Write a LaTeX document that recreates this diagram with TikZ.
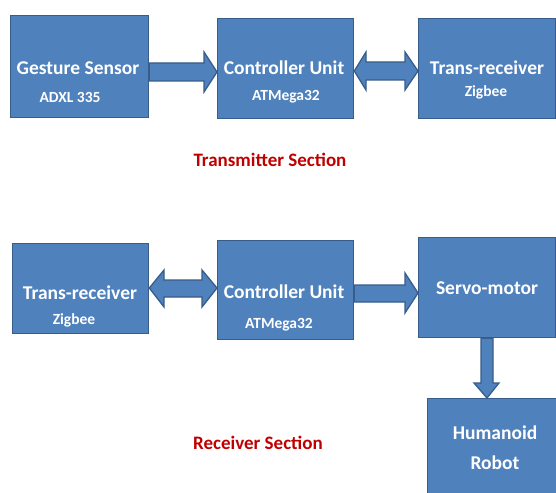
\documentclass[tikz,border=0pt]{standalone}
\usepackage{fontspec}
\setmainfont{Carlito}
\usetikzlibrary{calc}
\definecolor{boxblue}{HTML}{4F81BD}
\definecolor{boxline}{HTML}{385D8A}
\definecolor{titlered}{HTML}{C00000}
\begin{document}
\begin{tikzpicture}[x=1pt,y=-1pt,
  blk/.style={draw=boxline, fill=boxblue, line width=1.3pt},
  box/.style={blk, rectangle, inner sep=0pt, anchor=north west},
  lbl/.style={text=white, font=\bfseries\fontsize{19.5}{21}\selectfont, inner sep=0pt},
  sub/.style={text=white, font=\bfseries\fontsize{15.5}{17}\selectfont, inner sep=0pt},
  ttl/.style={text=titlered, font=\bfseries\fontsize{19}{21}\selectfont, inner sep=0pt}]
\useasboundingbox (0,0) rectangle (556,492);
\fill[white] (0,0) rectangle (556,492);

% boxes
\node[box, minimum width=138pt, minimum height=102pt] (gs) at (10,15) {};
\node[box, minimum width=136pt, minimum height=100pt] (cu1) at (217,18) {};
\node[box, minimum width=137pt, minimum height=100pt] (tr1) at (418,18) {};
\node[box, minimum width=136pt, minimum height=90pt] (tr2) at (12,243) {};
\node[box, minimum width=136pt, minimum height=99pt] (cu2) at (217,240) {};
\node[box, minimum width=137pt, minimum height=100pt] (sm) at (418,237) {};
\node[box, minimum width=131pt, minimum height=100pt] (hr) at (427,398) {};

% arrows
\draw[blk] (gs.east |- 0,63) -- (204,63) -- (204,52) -- (cu1.west |- 0,72)
  -- (204,92) -- (204,81) -- (gs.east |- 0,81) -- cycle;
\draw[blk] (cu1.east |- 0,71) -- (366,52) -- (366,62) -- (405,62) -- (405,52)
  -- (tr1.west |- 0,71) -- (405,90) -- (405,80) -- (366,80) -- (366,90) -- cycle;
\draw[blk] (tr2.east |- 0,288) -- (164,270) -- (164,280) -- (202,280) -- (202,270)
  -- (cu2.west |- 0,288) -- (202,307) -- (202,297) -- (164,297) -- (164,307) -- cycle;
\draw[blk] (cu2.east |- 0,285) -- (405,285) -- (405,273) -- (sm.west |- 0,293)
  -- (405,313) -- (405,302) -- (cu2.east |- 0,302) -- cycle;
\draw[blk] (sm.south -| 481,0) -- (481,383) -- (474,383) -- (hr.north -| 487,0)
  -- (499,383) -- (493,383) -- (sm.south -| 493,0) -- cycle;

% labels
\node[lbl] (l1) at (78,68) {Gesture Sensor};
\node[sub] (l1s) at (70,97) {ADXL 335};
\node[lbl] (l2) at (284,68) {Controller Unit};
\node[sub] (l2s) at (286,97) {ATMega32};
\node[lbl] (l3) at (487,68) {Trans-receiver};
\node[sub] (l3s) at (486,92) {Zigbee};
\node[ttl] (tt) at (270,160) {Transmitter Section};
\node[lbl] (l4) at (80,293) {Trans-receiver};
\node[sub] (l4s) at (74,320) {Zigbee};
\node[lbl] (l5) at (284,292) {Controller Unit};
\node[sub] (l5s) at (279,325) {ATMega32};
\node[lbl] (l6) at (487,288) {Servo-motor};
\node[lbl] (l7) at (495,433) {Humanoid};
\node[lbl] (l7b) at (495,463) {Robot};
\node[ttl] (rt) at (258,443) {Receiver Section};
\end{tikzpicture}
\end{document}
